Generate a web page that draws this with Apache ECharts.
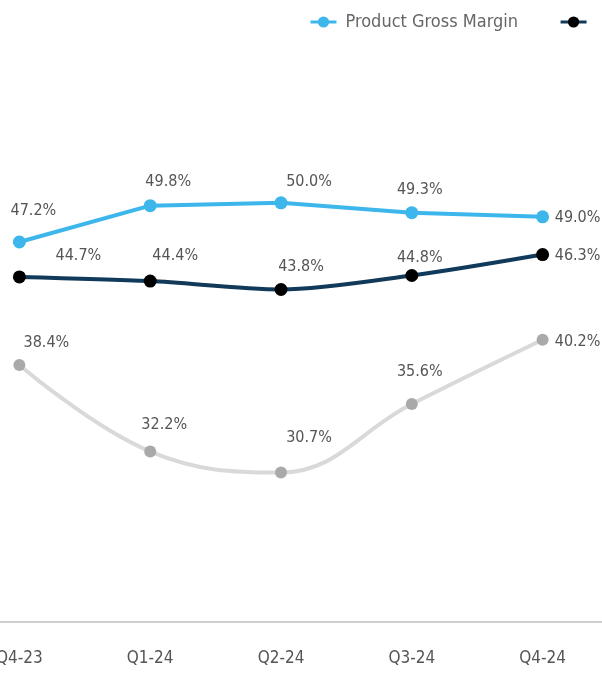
<!DOCTYPE html>
<html>
<head>
<meta charset="utf-8">
<script src="https://cdn.jsdelivr.net/npm/echarts@6/dist/echarts.min.js"></script>
<style>
html,body{margin:0;padding:0;background:#fff;overflow:hidden;width:602px;height:673px;}
#c{position:absolute;left:-46px;top:0;width:654px;height:673px;}
</style>
</head>
<body>
<div id="c"></div>
<script>
var categories = ['Q4-23', 'Q1-24', 'Q2-24', 'Q3-24', 'Q4-24'];
var productGM = [47.2, 49.8, 50.0, 49.3, 49.0];
var totalGM = [44.7, 44.4, 43.8, 44.8, 46.3];
var servicesGM = [38.4, 32.2, 30.7, 35.6, 40.2];
var seriesNames = ['Product Gross Margin', 'Total Gross Margin', 'Services Gross Margin'];

// label offsets (style only)
var productOff = [[14, -31], [18, -24], [28, -21], [8, -23], [35, 1]];
var totalOff = [[59, -21], [25, -25], [20, -23], [8, -18], [35, 1]];
var servicesOff = [[27, -22], [14, -27], [28, -35], [8, -32], [35, 2]];

var FONT = "'Liberation Sans Narrow', 'DejaVu Sans Condensed', 'Roboto', sans-serif";

function mk(vals, offs) {
  return vals.map(function (v, i) {
    return { value: v, label: { offset: offs[i] } };
  });
}

var chart = echarts.init(document.getElementById('c'), null, { renderer: 'canvas' });
var lbl = { show: true, position: 'inside', color: '#555', fontFamily: FONT, fontSize: 16,
  formatter: function (p) { return p.value.toFixed(1) + '%'; } };
chart.setOption({
  animation: false,
  backgroundColor: '#fff',
  legend: {
    orient: 'horizontal',
    left: 350,
    top: 8,
    width: 1500,
    itemWidth: 26,
    itemHeight: 14,
    itemGap: 41,
    lineStyle: { width: 3 },
    textStyle: { fontFamily: FONT, fontSize: 18, color: '#666', padding: [0, 0, 0, 4] },
    data: [
      { name: seriesNames[0] },
      { name: seriesNames[1], textStyle: { padding: [0, 0, 0, 16] } },
      { name: seriesNames[2] }
    ]
  },
  grid: { left: 0, right: 0, top: 133, bottom: 51, containLabel: false },
  xAxis: {
    type: 'category',
    data: categories,
    boundaryGap: true,
    axisLine: { lineStyle: { color: '#cfcfcf', width: 2 } },
    axisTick: { show: false },
    axisLabel: { color: '#555', fontFamily: FONT, fontSize: 17, margin: 28 }
  },
  yAxis: { type: 'value', min: 20, max: 55, show: false, splitLine: { show: false } },
  series: [
    {
      name: seriesNames[0], type: 'line', data: mk(productGM, productOff),
      symbol: 'circle', symbolSize: 13,
      itemStyle: { color: '#3db6ec' },
      lineStyle: { color: '#3db6ec', width: 4 },
      label: lbl
    },
    {
      name: seriesNames[1], type: 'line', data: mk(totalGM, totalOff),
      symbol: 'circle', symbolSize: 13, smooth: 0.3,
      itemStyle: { color: '#000' },
      lineStyle: { color: '#10395a', width: 4 },
      label: lbl
    },
    {
      name: seriesNames[2], type: 'line', data: mk(servicesGM, servicesOff),
      symbol: 'circle', symbolSize: 12, smooth: 0.4,
      itemStyle: { color: '#a9a9a9' },
      lineStyle: { color: '#d9d9d9', width: 4 },
      label: lbl
    }
  ]
});
</script>
</body>
</html>
